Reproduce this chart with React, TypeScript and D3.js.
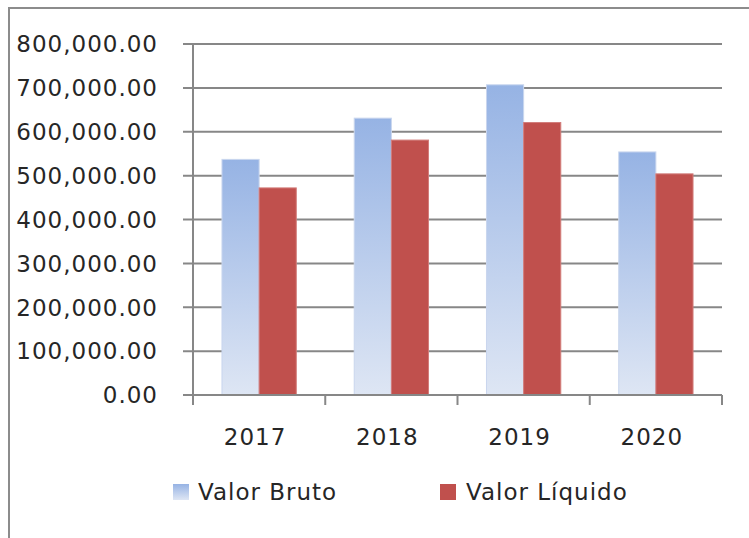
import React, { useEffect, useRef } from 'react';
import * as d3 from 'd3';

const categories = ['2017', '2018', '2019', '2020'];
const valorBruto = [537000, 631000, 707000, 554000];
const valorLiquido = [472000, 581000, 621000, 504000];
const seriesNames = ['Valor Bruto', 'Valor Líquido'];
const yTicks = [0, 100000, 200000, 300000, 400000, 500000, 600000, 700000, 800000];

export default function App() {
  const svgRef = useRef<SVGSVGElement>(null);

  useEffect(() => {
    if (!svgRef.current) return;
    const width = 749;
    const height = 538;
    const svg = d3.select(svgRef.current);
    svg.selectAll('*').remove();
    svg.attr('width', width).attr('height', height);

    const font = 'DejaVu Sans, Verdana, sans-serif';
    const grey = '#878787';
    const textColor = '#262626';

    // Gradient for the blue series
    const defs = svg.append('defs');
    const grad = defs.append('linearGradient')
      .attr('id', 'blueGrad')
      .attr('x1', 0).attr('y1', 0).attr('x2', 0).attr('y2', 1);
    grad.append('stop').attr('offset', '0%').attr('stop-color', '#96B3E4');
    grad.append('stop').attr('offset', '100%').attr('stop-color', '#DEE6F4');

    // Chart frame (only top and left edges visible)
    svg.append('path')
      .attr('d', `M9,${height} L9,8 L${width},8`)
      .attr('fill', 'none')
      .attr('stroke', '#8c8c8c')
      .attr('stroke-width', 2);

    const left = 193;
    const right = 722;
    const top = 44;
    const bottom = 395;

    const x = d3.scaleBand().domain(categories).range([left, right]).paddingInner(0).paddingOuter(0);
    const y = d3.scaleLinear().domain([0, 800000]).range([bottom, top]);

    // Gridlines with outward tick
    svg.append('g')
      .selectAll('line')
      .data(yTicks)
      .join('line')
      .attr('x1', left - 10)
      .attr('x2', right)
      .attr('y1', d => y(d))
      .attr('y2', d => y(d))
      .attr('stroke', grey)
      .attr('stroke-width', 2);

    // Y labels
    const fmt = d3.format(',.2f');
    svg.append('g')
      .selectAll('text')
      .data(yTicks)
      .join('text')
      .attr('x', 158)
      .attr('y', d => y(d))
      .attr('dy', '0.36em')
      .attr('text-anchor', 'end')
      .attr('font-family', font)
      .attr('font-size', 23)
      .attr('letter-spacing', 1)
      .attr('fill', textColor)
      .text(d => fmt(d));

    // Bars
    const x1 = d3.scaleBand().domain(seriesNames).range([0, x.bandwidth()]).paddingOuter(0.78).paddingInner(0);
    const rows = categories.map((c, i) => ({ c, vals: [valorBruto[i], valorLiquido[i]] }));
    rows.forEach(r => {
      r.vals.forEach((v, j) => {
        svg.append('rect')
          .attr('x', x(r.c)! + x1(seriesNames[j])!)
          .attr('y', y(v))
          .attr('width', x1.bandwidth())
          .attr('height', y(0) - y(v))
          .attr('fill', j === 0 ? 'url(#blueGrad)' : '#C0504D')
          .attr('stroke', j === 0 ? '#C9D6EE' : '#D27C7A')
          .attr('stroke-width', 1);
      });
    });

    // Y axis line
    svg.append('line')
      .attr('x1', left).attr('x2', left)
      .attr('y1', top).attr('y2', bottom + 10)
      .attr('stroke', grey).attr('stroke-width', 2);

    // X axis line + ticks
    svg.append('line')
      .attr('x1', left - 10).attr('x2', right)
      .attr('y1', bottom).attr('y2', bottom)
      .attr('stroke', grey).attr('stroke-width', 2);
    const boundaries = categories.map(c => x(c)!).concat([right]);
    svg.append('g')
      .selectAll('line')
      .data(boundaries)
      .join('line')
      .attr('x1', d => d).attr('x2', d => d)
      .attr('y1', bottom).attr('y2', bottom + 10)
      .attr('stroke', grey).attr('stroke-width', 2);

    // Category labels
    svg.append('g')
      .selectAll('text')
      .data(categories)
      .join('text')
      .attr('x', d => x(d)! + x.bandwidth() / 2 - 4)
      .attr('y', 445)
      .attr('text-anchor', 'middle')
      .attr('font-family', font)
      .attr('font-size', 23)
      .attr('letter-spacing', 1)
      .attr('fill', textColor)
      .text(d => d);

    // Legend
    const legend = [
      { name: seriesNames[0], fill: 'url(#blueGrad)', sx: 173, tx: 198 },
      { name: seriesNames[1], fill: '#C0504D', sx: 440, tx: 466 },
    ];
    legend.forEach(l => {
      svg.append('rect')
        .attr('x', l.sx).attr('y', 484)
        .attr('width', 16).attr('height', 16)
        .attr('fill', l.fill);
      svg.append('text')
        .attr('x', l.tx).attr('y', 500)
        .attr('font-family', font)
        .attr('font-size', 23)
        .attr('letter-spacing', 1)
        .attr('fill', textColor)
        .text(l.name);
    });
  }, []);

  return (
    <div style={{ position: 'absolute', left: 0, top: 0, background: '#fff' }}>
      <svg ref={svgRef} style={{ display: 'block' }}></svg>
    </div>
  );
}
